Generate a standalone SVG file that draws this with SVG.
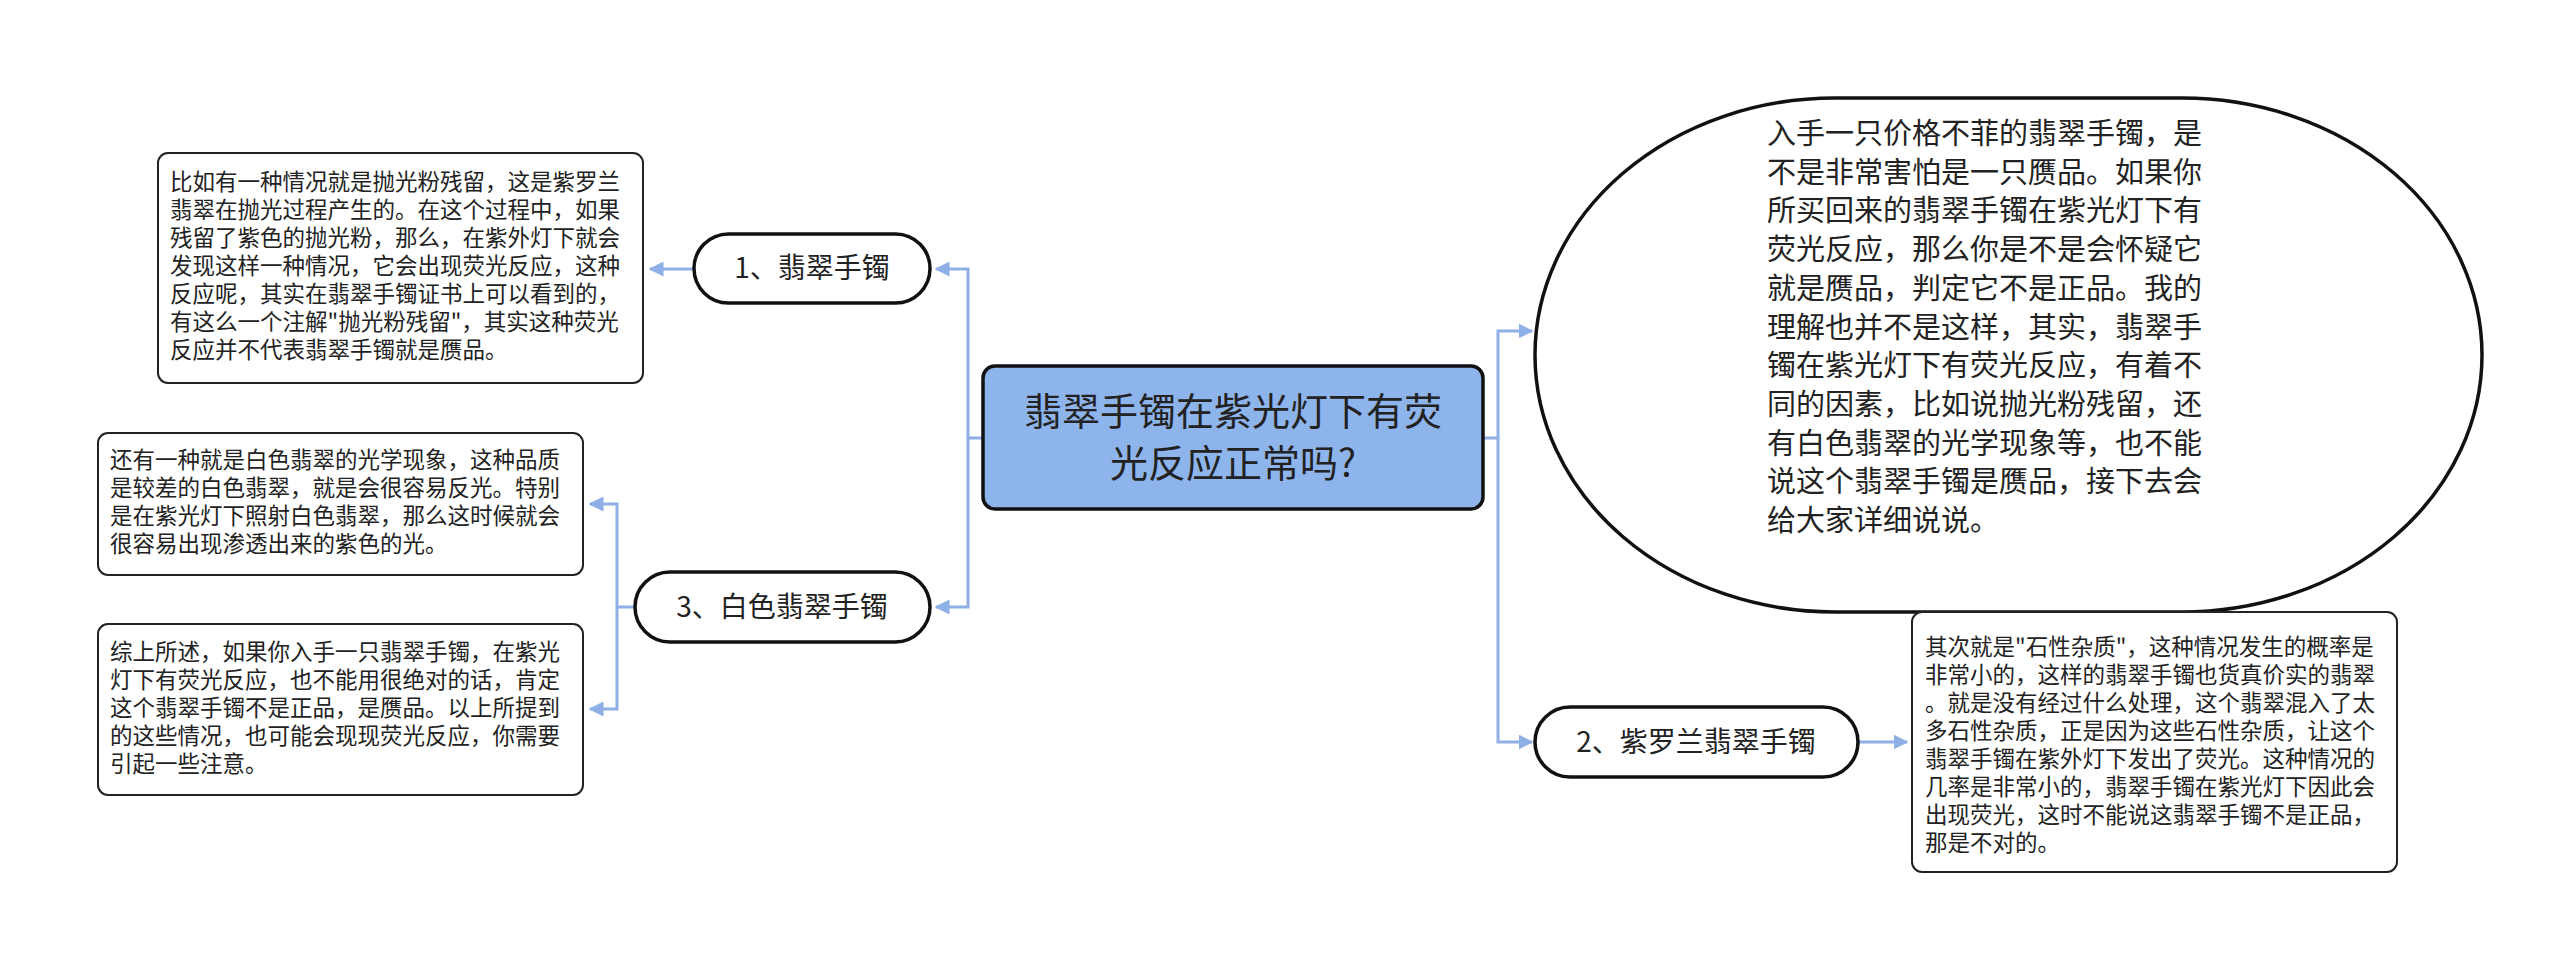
<svg xmlns="http://www.w3.org/2000/svg" width="2560" height="971" viewBox="0 0 2560 971">
<style>
text{font-family:"Noto Sans CJK SC","Noto Sans",sans-serif;fill:#222}
.c{fill:none;stroke:#8fb0e6;stroke-width:3}
.box{fill:#fff;stroke:#222;stroke-width:2}
.pill{fill:#fff;stroke:#111;stroke-width:3.5}
.t{font-size:22.5px}
.n{font-size:28px;text-anchor:middle}
</style>
<defs><marker id="a" viewBox="0 0 10 10" refX="9" refY="5" markerWidth="5" markerHeight="5" orient="auto"><path d="M0,0L10,5L0,10z" fill="#8fb0e6"/></marker></defs>
<rect width="2560" height="971" fill="#fff"/>
<g id="connectors">
<path class="c" d="M983,438H968V269H936" marker-end="url(#a)"/>
<path class="c" d="M968,438V607H936" marker-end="url(#a)"/>
<path class="c" d="M694,269H650" marker-end="url(#a)"/>
<path class="c" d="M635,607H617V504H590" marker-end="url(#a)"/>
<path class="c" d="M617,607V709H590" marker-end="url(#a)"/>
<path class="c" d="M1483,438H1498V331H1532" marker-end="url(#a)"/>
<path class="c" d="M1498,438V742H1532" marker-end="url(#a)"/>
<path class="c" d="M1858,742H1907" marker-end="url(#a)"/>
</g>
<g id="root">
<rect x="983" y="366" width="500" height="143" rx="12" fill="#8eb4ec" stroke="#111" stroke-width="3.5"/>
<text x="1233" y="425" font-size="38" text-anchor="middle">翡翠手镯在紫光灯下有荧</text>
<text x="1233" y="477" font-size="38" text-anchor="middle">光反应正常吗?</text>
</g>
<g id="intro">
<rect class="pill" x="1535" y="98" width="947" height="514" rx="300" ry="257"/>
<g font-size="29">
<text x="1767" y="144">入手一只价格不菲的翡翠手镯，是</text>
<text x="1767" y="183">不是非常害怕是一只赝品。如果你</text>
<text x="1767" y="221">所买回来的翡翠手镯在紫光灯下有</text>
<text x="1767" y="260">荧光反应，那么你是不是会怀疑它</text>
<text x="1767" y="299">就是赝品，判定它不是正品。我的</text>
<text x="1767" y="338">理解也并不是这样，其实，翡翠手</text>
<text x="1767" y="376">镯在紫光灯下有荧光反应，有着不</text>
<text x="1767" y="415">同的因素，比如说抛光粉残留，还</text>
<text x="1767" y="454">有白色翡翠的光学现象等，也不能</text>
<text x="1767" y="492">说这个翡翠手镯是赝品，接下去会</text>
<text x="1767" y="531">给大家详细说说。</text>
</g>
</g>
<g id="n1">
<rect class="pill" x="694" y="234" width="236" height="69" rx="34.5"/>
<text class="n" x="812" y="278">1、翡翠手镯</text>
</g>
<g id="n3">
<rect class="pill" x="635" y="572" width="295" height="70" rx="35"/>
<text class="n" x="782" y="617">3、白色翡翠手镯</text>
</g>
<g id="n2">
<rect class="pill" x="1535" y="707" width="323" height="70" rx="35"/>
<text class="n" x="1696" y="752">2、紫罗兰翡翠手镯</text>
</g>
<g id="d1">
<rect class="box" x="158" y="153" width="485" height="230" rx="10"/>
<g class="t">
<text x="170" y="190">比如有一种情况就是抛光粉残留，这是紫罗兰</text>
<text x="170" y="218">翡翠在抛光过程产生的。在这个过程中，如果</text>
<text x="170" y="246">残留了紫色的抛光粉，那么，在紫外灯下就会</text>
<text x="170" y="274">发现这样一种情况，它会出现荧光反应，这种</text>
<text x="170" y="302">反应呢，其实在翡翠手镯证书上可以看到的，</text>
<text x="170" y="330">有这么一个注解"抛光粉残留"，其实这种荧光</text>
<text x="170" y="358">反应并不代表翡翠手镯就是赝品。</text>
</g>
</g>
<g id="d3a">
<rect class="box" x="98" y="433" width="485" height="142" rx="10"/>
<g class="t">
<text x="110" y="468">还有一种就是白色翡翠的光学现象，这种品质</text>
<text x="110" y="496">是较差的白色翡翠，就是会很容易反光。特别</text>
<text x="110" y="524">是在紫光灯下照射白色翡翠，那么这时候就会</text>
<text x="110" y="552">很容易出现渗透出来的紫色的光。</text>
</g>
</g>
<g id="d3b">
<rect class="box" x="98" y="624" width="485" height="171" rx="10"/>
<g class="t">
<text x="110" y="660">综上所述，如果你入手一只翡翠手镯，在紫光</text>
<text x="110" y="688">灯下有荧光反应，也不能用很绝对的话，肯定</text>
<text x="110" y="716">这个翡翠手镯不是正品，是赝品。以上所提到</text>
<text x="110" y="744">的这些情况，也可能会现现荧光反应，你需要</text>
<text x="110" y="772">引起一些注意。</text>
</g>
</g>
<g id="d2">
<rect class="box" x="1912" y="612" width="485" height="260" rx="10"/>
<g class="t">
<text x="1925" y="655">其次就是"石性杂质"，这种情况发生的概率是</text>
<text x="1925" y="683">非常小的，这样的翡翠手镯也货真价实的翡翠</text>
<text x="1925" y="711">。就是没有经过什么处理，这个翡翠混入了太</text>
<text x="1925" y="739">多石性杂质，正是因为这些石性杂质，让这个</text>
<text x="1925" y="767">翡翠手镯在紫外灯下发出了荧光。这种情况的</text>
<text x="1925" y="795">几率是非常小的，翡翠手镯在紫光灯下因此会</text>
<text x="1925" y="823">出现荧光，这时不能说这翡翠手镯不是正品，</text>
<text x="1925" y="851">那是不对的。</text>
</g>
</g>
</svg>
